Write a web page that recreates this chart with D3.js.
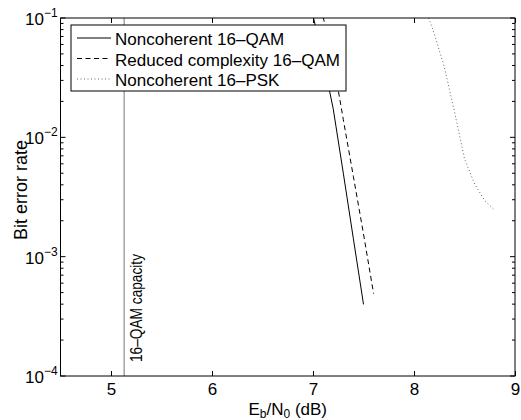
<!DOCTYPE html>
<html>
<head>
<meta charset="utf-8">
<script src="https://cdn.jsdelivr.net/npm/d3@7"></script>
<style>
  body { margin: 0; background: #fff; }
  svg { display: block; font-family: "Liberation Sans", Arial, sans-serif; }
</style>
</head>
<body>
<svg id="chart" width="521" height="420"></svg>
<script>
// ---- data ----
const xTicks = [5, 6, 7, 8, 9];
const yDecades = [-4, -3, -2, -1];
const capacityX = 5.13;
const capacityLabel = "16\u2013QAM capacity";

const qamX = [7.0, 7.1, 7.2, 7.3, 7.4, 7.5];
const qamY = [0.1047, 0.0447, 0.01738, 0.00501, 0.00141, 0.000398];

const rcX = [7.1, 7.2, 7.3, 7.4, 7.5, 7.6];
const rcY = [0.1023, 0.0437, 0.0141, 0.00468, 0.00155, 0.00049];

const pskX = [8.1, 8.2, 8.3, 8.4, 8.5, 8.6, 8.7, 8.8];
const pskY = [0.129, 0.0741, 0.0389, 0.0166, 0.00661, 0.00407, 0.00295, 0.00245];

const seriesNames = ["Noncoherent 16\u2013QAM", "Reduced complexity 16\u2013QAM", "Noncoherent 16\u2013PSK"];

// ---- layout ----
const L = 60.5, R = 515, T = 18, B = 376;
const svg = d3.select("#chart");
const x = d3.scaleLinear().domain([4.5, 9]).range([L, R]);
const y = d3.scaleLog().domain([1e-4, 1e-1]).range([B, T]);

svg.append("defs").append("clipPath").attr("id", "clip")
  .append("rect").attr("x", L).attr("y", T).attr("width", R - L).attr("height", B - T);

const styles = [
  { dash: null, stroke: "#000", width: 1 },
  { dash: "5,3.5", stroke: "#000", width: 1 },
  { dash: "1,2.5", stroke: "#555", width: 0.9 }
];

// capacity line
svg.append("line")
  .attr("x1", x(capacityX)).attr("x2", x(capacityX))
  .attr("y1", y(1e-1)).attr("y2", y(1e-4))
  .attr("stroke", "#777").attr("stroke-width", 1);

svg.append("text")
  .attr("transform", `translate(${x(capacityX) + 18},${B - 14}) rotate(-90)`)
  .attr("font-size", 17).attr("fill", "#000")
  .attr("textLength", 108).attr("lengthAdjust", "spacingAndGlyphs")
  .text(capacityLabel);

// curves
const line = d3.line().x(d => x(d[0])).y(d => y(d[1]));
const series = [
  d3.zip(qamX, qamY),
  d3.zip(rcX, rcY),
  d3.zip(pskX, pskY)
];
const g = svg.append("g").attr("clip-path", "url(#clip)");
series.forEach((s, i) => {
  g.append("path").datum(s)
    .attr("d", line)
    .attr("fill", "none")
    .attr("stroke", styles[i].stroke)
    .attr("stroke-width", styles[i].width)
    .attr("stroke-dasharray", styles[i].dash);
});

// axes box
svg.append("rect").attr("x", L).attr("y", T).attr("width", R - L).attr("height", B - T)
  .attr("fill", "none").attr("stroke", "#000").attr("stroke-width", 1);

// x ticks (bottom + top, inward)
const xAxisB = d3.axisBottom(x).tickValues(xTicks).tickSizeInner(-5).tickSizeOuter(0).tickPadding(10).tickFormat(d3.format("d"));
const gxb = svg.append("g").attr("transform", `translate(0,${B})`).call(xAxisB);
gxb.select(".domain").remove();
gxb.selectAll("text").attr("font-size", 17).attr("font-family", "Liberation Sans, Arial, sans-serif").attr("fill", "#000").attr("dy", "0.71em").attr("y", 7);
const xAxisT = d3.axisTop(x).tickValues(xTicks).tickSizeInner(-5).tickSizeOuter(0).tickFormat("");
const gxt = svg.append("g").attr("transform", `translate(0,${T})`).call(xAxisT);
gxt.select(".domain").remove();

// y ticks (major + minor, both sides, inward)
const minor = [];
yDecades.slice(0, 3).forEach(e => { for (let k = 2; k <= 9; k++) minor.push(k * Math.pow(10, e)); });
const majors = yDecades.map(e => Math.pow(10, e));
[[L, 1], [R, -1]].forEach(([px, dir]) => {
  const ga = svg.append("g");
  ga.selectAll("line.maj").data(majors).join("line")
    .attr("x1", px).attr("x2", px + dir * 5)
    .attr("y1", d => y(d)).attr("y2", d => y(d))
    .attr("stroke", "#000").attr("stroke-width", 1);
  ga.selectAll("line.min").data(minor).join("line")
    .attr("x1", px).attr("x2", px + dir * 3)
    .attr("y1", d => y(d)).attr("y2", d => y(d))
    .attr("stroke", "#000").attr("stroke-width", 1);
});

// y tick labels
const yl = svg.append("g");
yDecades.forEach(e => {
  const t = yl.append("text").attr("x", 25).attr("y", y(Math.pow(10, e)) + 7)
    .attr("font-size", 17).attr("fill", "#000");
  t.append("tspan").text("10");
  t.append("tspan").attr("dy", -8).attr("font-size", 12).text("\u2212" + Math.abs(e));
});

// axis labels
const xl = svg.append("text").attr("x", (L + R) / 2).attr("y", 415)
  .attr("text-anchor", "middle").attr("font-size", 17).attr("fill", "#000");
xl.append("tspan").text("E");
xl.append("tspan").attr("font-size", 12).attr("dy", 3).text("b");
xl.append("tspan").attr("dy", -3).text("/N");
xl.append("tspan").attr("font-size", 12).attr("dy", 3).text("0");
xl.append("tspan").attr("dy", -3).text(" (dB)");

svg.append("text")
  .attr("transform", `translate(27,${(T + B) / 2 - 7}) rotate(-90)`)
  .attr("text-anchor", "middle").attr("font-size", 18).attr("fill", "#000")
  .text("Bit error rate");

// legend
const lg = svg.append("g");
lg.append("rect").attr("x", 71).attr("y", 25).attr("width", 275).attr("height", 66)
  .attr("fill", "#fff").attr("stroke", "#000").attr("stroke-width", 1);
const rowBase = [45, 65.5, 86];
seriesNames.forEach((n, i) => {
  lg.append("line").attr("x1", 77).attr("x2", 111)
    .attr("y1", rowBase[i] - 7).attr("y2", rowBase[i] - 7)
    .attr("stroke", styles[i].stroke).attr("stroke-width", styles[i].width)
    .attr("stroke-dasharray", styles[i].dash);
  lg.append("text").attr("x", 115).attr("y", rowBase[i])
    .attr("font-size", 17).attr("fill", "#000").text(n);
});
</script>
</body>
</html>
